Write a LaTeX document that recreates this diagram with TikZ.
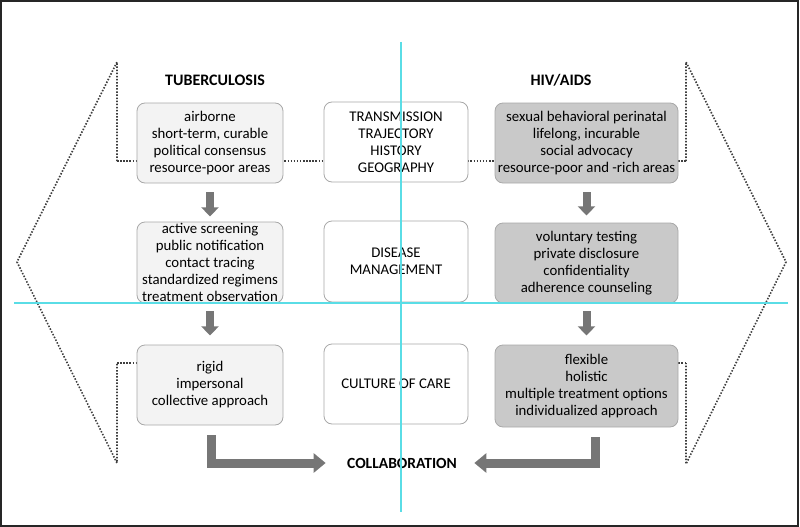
\documentclass[tikz,border=0pt]{standalone}
\usepackage{fontspec}
\setmainfont{Carlito}
\usetikzlibrary{arrows.meta}
\definecolor{boxborder}{HTML}{A8A8A8}
\definecolor{leftfill}{HTML}{F3F3F3}
\definecolor{rightfill}{HTML}{C9C9C9}
\definecolor{arrowgray}{HTML}{767676}
\definecolor{guide}{HTML}{5ADDE6}
\definecolor{dotgray}{HTML}{3E3E3E}
\begin{document}
\begin{tikzpicture}[x=1pt,y=-1pt,
  box/.style={draw=boxborder, line width=0.8pt, rounded corners=8pt, align=center,
    inner sep=0pt, font=\fontsize{14.8}{17}\selectfont},
  lbox/.style={box, fill=leftfill, minimum width=146pt, minimum height=80pt},
  cbox/.style={box, fill=white, minimum width=144pt, minimum height=80pt},
  rbox/.style={box, fill=rightfill, minimum width=183pt, minimum height=80pt},
  title/.style={font=\fontsize{16}{18}\selectfont\bfseries},
  dotline/.style={draw=dotgray, line width=1.6pt, dash pattern=on 1.5pt off 1.6pt},
  flowarrow/.style={draw=arrowgray, line width=8pt, -{Triangle[length=9pt,width=17pt]}},
  bigarrow/.style={draw=arrowgray, line width=9pt, -{Triangle[length=12pt,width=19pt]}},
  guideline/.style={draw=guide, line width=1.2pt}
]
\useasboundingbox (0,0) rectangle (800,527);
\draw[line width=2pt, black!85] (1,1) rectangle (798,526);

% dotted frames
\coordinate (lt) at (117,62);
\coordinate (lv) at (17,262);
\coordinate (lb) at (117,463);
\coordinate (rt) at (686,62);
\coordinate (rv) at (786,262);
\coordinate (rb) at (686,464);
\coordinate (l1) at (117,161);
\coordinate (l3) at (117,363);
\coordinate (r1) at (686,161);
\coordinate (r3) at (686,363);

\draw[dotline] (l1) -- (lt) -- (lv) -- (lb) -- (l3);
\draw[dotline] (r1) -- (rt) -- (rv) -- (rb) -- (r3);
\draw[dotline] (l1) -- (r1);
\draw[dotline] (l3) -- (137,363);
\draw[dotline] (r3) -- (678,363);

% titles
\node[title] (ttb) at (215,80) {TUBERCULOSIS};
\node[title] (thiv) at (561,80) {HIV/AIDS};

% boxes
\node[lbox] (a1) at (210,143) {airborne\\short-term, curable\\political consensus\\resource-poor areas};
\node[cbox] (b1) at (396,142) {TRANSMISSION\\TRAJECTORY\\HISTORY\\GEOGRAPHY};
\node[rbox] (c1) at (586.5,143) {sexual behavioral perinatal\\lifelong, incurable\\social advocacy\\resource-poor and -rich areas};

\node[lbox, minimum height=81pt] (a2) at (210,262.5) {active screening\\public notification\\contact tracing\\standardized regimens\\treatment observation};
\node[cbox, minimum height=81pt] (b2) at (396,261.5) {DISEASE\\MANAGEMENT};
\node[rbox] (c2) at (586.5,263) {voluntary testing\\private disclosure\\confidentiality\\adherence counseling};

\node[lbox] (a3) at (210,385) {rigid\\impersonal\\collective approach};
\node[cbox] (b3) at (396,384) {CULTURE OF CARE};
\node[rbox, minimum height=82pt] (c3) at (586.5,386) {flexible\\holistic\\multiple treatment options\\individualized approach};

\node[title, font=\fontsize{15.5}{18}\selectfont\bfseries] (col) at (402,463) {COLLABORATION};

% flow arrows
\draw[flowarrow] ([yshift=-9pt]a1.south) -- ([yshift=-33pt]a1.south);
\draw[flowarrow] ([yshift=-8pt]a2.south) -- ([yshift=-32pt]a2.south);
\draw[flowarrow] ([yshift=-9pt]c1.south) -- ([yshift=-32pt]c1.south);
\draw[flowarrow] ([yshift=-8pt]c2.south) -- ([yshift=-32pt]c2.south);

% collaboration arrows
\coordinate (la) at (211,435);
\coordinate (ra) at (595,437);
\draw[bigarrow] (la) |- ([xshift=-18pt]col.west);
\draw[bigarrow] (ra) |- ([xshift=14pt]col.east);

% guide lines
\draw[guideline] (401,42) -- (401,512);
\draw[guideline] (14,303) -- (788,303);
\end{tikzpicture}
\end{document}
